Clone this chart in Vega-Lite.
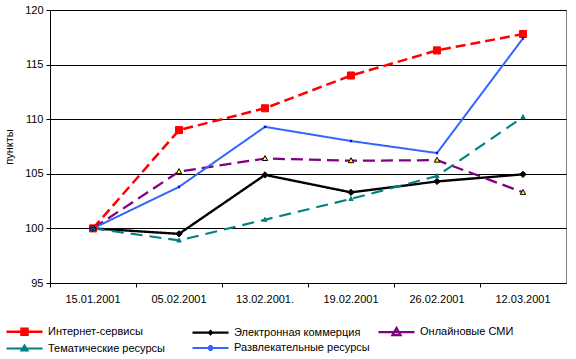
{
  "$schema": "https://vega.github.io/schema/vega-lite/v6.json",
  "autosize": {"type": "none"},
  "padding": {"left": 50, "top": 10, "right": 10, "bottom": 76},
  "width": 516,
  "height": 273,
  "background": "white",
  "config": {
    "font": "Liberation Sans",
    "view": {"stroke": "#808080", "strokeWidth": 1}
  },
  "data": {
    "values": [
      {"date": "15.01.2001", "series": "Интернет-сервисы", "value": 100},
      {"date": "05.02.2001", "series": "Интернет-сервисы", "value": 109.0},
      {"date": "13.02.2001.", "series": "Интернет-сервисы", "value": 111.0},
      {"date": "19.02.2001", "series": "Интернет-сервисы", "value": 114.0},
      {"date": "26.02.2001", "series": "Интернет-сервисы", "value": 116.3},
      {"date": "12.03.2001", "series": "Интернет-сервисы", "value": 117.8},
      {"date": "15.01.2001", "series": "Электронная коммерция", "value": 100},
      {"date": "05.02.2001", "series": "Электронная коммерция", "value": 99.5},
      {"date": "13.02.2001.", "series": "Электронная коммерция", "value": 104.9},
      {"date": "19.02.2001", "series": "Электронная коммерция", "value": 103.3},
      {"date": "26.02.2001", "series": "Электронная коммерция", "value": 104.3},
      {"date": "12.03.2001", "series": "Электронная коммерция", "value": 104.95},
      {"date": "15.01.2001", "series": "Онлайновые СМИ", "value": 100},
      {"date": "05.02.2001", "series": "Онлайновые СМИ", "value": 105.2},
      {"date": "13.02.2001.", "series": "Онлайновые СМИ", "value": 106.4},
      {"date": "19.02.2001", "series": "Онлайновые СМИ", "value": 106.2},
      {"date": "26.02.2001", "series": "Онлайновые СМИ", "value": 106.25},
      {"date": "12.03.2001", "series": "Онлайновые СМИ", "value": 103.3},
      {"date": "15.01.2001", "series": "Тематические ресурсы", "value": 100},
      {"date": "05.02.2001", "series": "Тематические ресурсы", "value": 98.9},
      {"date": "13.02.2001.", "series": "Тематические ресурсы", "value": 100.8},
      {"date": "19.02.2001", "series": "Тематические ресурсы", "value": 102.7},
      {"date": "26.02.2001", "series": "Тематические ресурсы", "value": 104.8},
      {"date": "12.03.2001", "series": "Тематические ресурсы", "value": 110.2},
      {"date": "15.01.2001", "series": "Развлекательные ресурсы", "value": 100},
      {"date": "05.02.2001", "series": "Развлекательные ресурсы", "value": 103.8},
      {"date": "13.02.2001.", "series": "Развлекательные ресурсы", "value": 109.3},
      {"date": "19.02.2001", "series": "Развлекательные ресурсы", "value": 108.0},
      {"date": "26.02.2001", "series": "Развлекательные ресурсы", "value": 106.9},
      {"date": "12.03.2001", "series": "Развлекательные ресурсы", "value": 117.4}
    ]
  },
  "encoding": {
    "x": {
      "field": "date", "type": "nominal", "sort": null,
      "scale": {"type": "band", "paddingInner": 0, "paddingOuter": 0},
      "axis": {
        "title": null, "labelAngle": 0, "labelFontSize": 11, "labelColor": "black",
        "labelPadding": 6, "tickSize": 4, "tickColor": "black", "domainColor": "black",
        "bandPosition": 0, "labelAlign": "center",
        "labelBound": false, "labelOverlap": false
      }
    },
    "y": {
      "field": "value", "type": "quantitative",
      "scale": {"domain": [95, 120], "nice": false, "zero": false},
      "axis": {
        "title": "пункты", "titleFontSize": 11, "titleFontWeight": "normal", "titleColor": "black",
        "titlePadding": 10,
        "values": [95, 100, 105, 110, 115, 120],
        "labelFontSize": 11, "labelColor": "black", "labelPadding": 3,
        "tickSize": 4, "tickColor": "black", "domainColor": "black",
        "grid": true, "gridColor": "black", "gridWidth": 1
      }
    }
  },
  "layer": [
    {
      "mark": {"type": "line"},
      "encoding": {
        "stroke": {
          "field": "series", "type": "nominal",
          "scale": {
            "domain": ["Интернет-сервисы", "Электронная коммерция", "Онлайновые СМИ", "Тематические ресурсы", "Развлекательные ресурсы"],
            "range": ["#ff0000", "#000000", "#800080", "#008080", "#3366ff"]
          },
          "legend": {
            "title": null, "orient": "none", "legendX": -45, "legendY": 315,
            "direction": "horizontal",
            "columns": 3, "gridAlign": "all", "columnPadding": 3, "rowPadding": 1,
            "labelFontSize": 11, "labelColor": "black", "labelOffset": 30,
            "symbolSize": 100, "symbolStrokeWidth": 2, "labelLimit": 300,
            "encode": {
              "symbols": {
                "update": {
                  "shape": {"signal": "datum.value === 'Интернет-сервисы' ? 'M-1,0H6.2M2,-0.6H3.2V0.6H2Z' : datum.value === 'Электронная коммерция' ? 'M-1,0H6.2M2.6,-0.3L2.9,0L2.6,0.3L2.3,0Z' : datum.value === 'Онлайновые СМИ' ? 'M-1,0H6.2M2.6,-0.8L3.4,0.6H1.8Z' : datum.value === 'Тематические ресурсы' ? 'M-1,0H6.2M2.6,-0.6L3.2,0.4H2Z' : 'M-1,0H6.2M2.6,-0.6V0.6M2.2,-0.4L3,0.4M2.2,0.4L3,-0.4'"},
                  "fill": {"signal": "datum.value === 'Интернет-сервисы' ? '#ff0000' : datum.value === 'Электронная коммерция' ? '#000000' : datum.value === 'Онлайновые СМИ' ? '#ffff00' : datum.value === 'Тематические ресурсы' ? '#008080' : 'transparent'"},
                  "fillOpacity": {"value": 1},
                  "strokeWidth": {"value": 2}
                }
              }
            }
          }
        },
        "strokeDash": {
          "field": "series", "type": "nominal",
          "scale": {
            "domain": ["Интернет-сервисы", "Электронная коммерция", "Онлайновые СМИ", "Тематические ресурсы", "Развлекательные ресурсы"],
            "range": [[10, 5], [1, 0], [12, 6], [12, 7], [1, 0]]
          },
          "legend": null
        },
        "strokeWidth": {
          "field": "series", "type": "nominal",
          "scale": {
            "domain": ["Интернет-сервисы", "Электронная коммерция", "Онлайновые СМИ", "Тематические ресурсы", "Развлекательные ресурсы"],
            "range": [2.5, 2, 2.5, 2.5, 1.5]
          },
          "legend": null
        },
        "detail": {"field": "series"}
      }
    },
    {
      "mark": {"type": "point", "filled": false, "opacity": 1, "strokeWidth": 1},
      "encoding": {
        "shape": {
          "field": "series", "type": "nominal",
          "scale": {
            "domain": ["Интернет-сервисы", "Электронная коммерция", "Онлайновые СМИ", "Тематические ресурсы", "Развлекательные ресурсы"],
            "range": ["square", "diamond", "M0,-1.1L1,0.75H-1Z", "M0,-1.1L1,0.75H-1Z", "M0,-1V1M-0.8,-0.8L0.8,0.8M-0.8,0.8L0.8,-0.8"]
          },
          "legend": null
        },
        "size": {
          "field": "series", "type": "nominal",
          "scale": {
            "domain": ["Интернет-сервисы", "Электронная коммерция", "Онлайновые СМИ", "Тематические ресурсы", "Развлекательные ресурсы"],
            "range": [50, 8, 55, 30, 110]
          },
          "legend": null
        },
        "fill": {
          "field": "series", "type": "nominal",
          "scale": {
            "domain": ["Интернет-сервисы", "Электронная коммерция", "Онлайновые СМИ", "Тематические ресурсы", "Развлекательные ресурсы"],
            "range": ["#ff0000", "#000000", "#ffff00", "#008080", "transparent"]
          },
          "legend": null
        },
        "stroke": {
          "field": "series", "type": "nominal",
          "scale": {
            "domain": ["Интернет-сервисы", "Электронная коммерция", "Онлайновые СМИ", "Тематические ресурсы", "Развлекательные ресурсы"],
            "range": ["#ff0000", "#000000", "#000000", "#008080", "#0000ff"]
          },
          "legend": null
        }
      }
    }
  ],
  "resolve": {"scale": {"stroke": "independent", "strokeWidth": "independent"}}
}
